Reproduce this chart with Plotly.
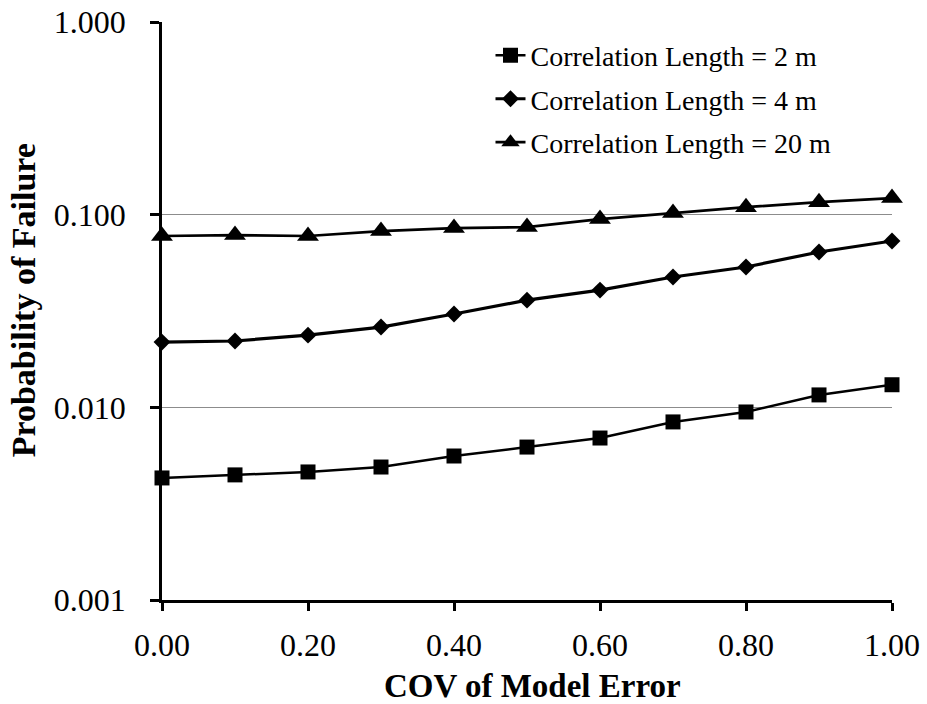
import plotly.graph_objects as go

cov = [0.0, 0.1, 0.2, 0.3, 0.4, 0.5, 0.6, 0.7, 0.8, 0.9, 1.0]
pf_2m = [0.0043, 0.00446, 0.00462, 0.0049, 0.00559, 0.00622, 0.00693, 0.0084, 0.00946, 0.0116, 0.0131]
pf_4m = [0.0218, 0.0221, 0.0237, 0.0261, 0.0305, 0.0360, 0.0406, 0.0475, 0.0535, 0.0640, 0.0730]
pf_20m = [0.0775, 0.0784, 0.0775, 0.0822, 0.0852, 0.0862, 0.0949, 0.1019, 0.1094, 0.1161, 0.1219]

names = ["Correlation Length = 2 m", "Correlation Length = 4 m", "Correlation Length = 20 m"]
y_tickvals = [0.001, 0.01, 0.1, 1.0]
y_ticktext = ["0.001", "0.010", "0.100", "1.000"]
x_tickvals = [0.0, 0.2, 0.4, 0.6, 0.8, 1.0]
x_ticktext = ["0.00", "0.20", "0.40", "0.60", "0.80", "1.00"]
x_title = "COV of Model Error"
y_title = "Probability of Failure"

FONT = "Liberation Serif"

fig = go.Figure()
styles = [("square", 15, 2.5), ("diamond", 13, 3.2), ("triangle-up", 19, 2.7)]
for i, (name, ys, (sym, sz, lw)) in enumerate(zip(names, [pf_2m, pf_4m, pf_20m], styles)):
    fig.add_trace(go.Scatter(
        x=cov, y=ys, name=name, mode="lines+markers",
        line=dict(color="black", width=lw),
        marker=dict(symbol=sym, size=sz, color="black"),
        cliponaxis=False, legendgroup=str(i),
    ))

fig.update_layout(
    width=927, height=704,
    margin=dict(l=162, r=35, t=22, b=104),
    paper_bgcolor="white", plot_bgcolor="white",
    font=dict(family=FONT, color="black"),
    showlegend=True,
    legend=dict(
        x=0.45, y=0.985, xanchor="left", yanchor="top",
        font=dict(size=28, family=FONT, color="black"),
        bgcolor="rgba(0,0,0,0)", tracegroupgap=4,
        itemwidth=30,
    ),
    xaxis=dict(
        range=[0, 1], tickvals=x_tickvals, ticktext=x_ticktext,
        showgrid=False, zeroline=False, automargin=False,
        showline=True, linecolor="black", linewidth=2.5,
        ticks="outside", ticklen=8, tickwidth=2.5, tickcolor="black",
        tickfont=dict(size=32, family=FONT), ticklabelstandoff=7,
    ),
    yaxis=dict(
        type="log", range=[-3, 0], tickvals=y_tickvals, ticktext=y_ticktext,
        showgrid=True, gridcolor="#8c8c8c", gridwidth=1,
        zeroline=False, automargin=False,
        showline=True, linecolor="black", linewidth=2.5,
        ticks="outside", ticklen=9, tickwidth=2.5, tickcolor="black",
        tickfont=dict(size=32, family=FONT), ticklabelstandoff=18,
    ),
    annotations=[
        dict(text="<b>" + x_title + "</b>", xref="paper", yref="paper",
             x=0.507, y=-0.148, xanchor="center", yanchor="middle",
             showarrow=False, font=dict(size=33, family=FONT)),
        dict(text="<b>" + y_title + "</b>", xref="paper", yref="paper",
             x=-0.19, y=0.519, xanchor="center", yanchor="middle", textangle=-90,
             showarrow=False, font=dict(size=34, family=FONT)),
    ],
)

fig.write_html("out.html")
